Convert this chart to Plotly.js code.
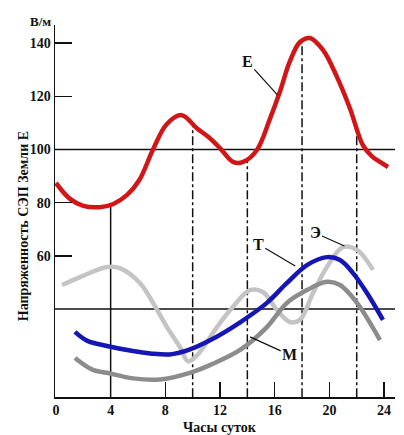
<!DOCTYPE html>
<html><head><meta charset="utf-8">
<script src="https://cdn.plot.ly/plotly-3.0.1.min.js"></script>
<style>html,body{margin:0;padding:0;background:#fff}#c{width:404px;height:435px}</style>
</head><body><div id="c"></div>
<script>
// Hours of day
const hoursE = [0, 1.0, 2.0, 3.2, 4.2, 5.2, 6.1, 7.1, 8.1, 9.2, 10.3, 11.2, 12.0, 12.95, 13.7, 14.7, 15.65, 16.4, 17.1, 17.85, 18.58, 19.53, 20.56, 21.5, 22.46, 23.1, 23.7, 24.29];
const valuesE = [87.4, 81.5, 78.8, 78.3, 79.5, 82.9, 88.5, 100, 109.5, 112.9, 108, 104.5, 100.5, 95.3, 95.3, 99.8, 111.5, 122, 133, 140.4, 141.9, 137.4, 127.2, 115.5, 101.5, 97.5, 95.3, 93.4];

const hoursT = [1.39, 2.3, 3.73, 5.63, 6.9, 8.3, 9.66, 11.3, 13.5, 15.43, 16.9, 18.36, 19.82, 20.78, 21.73, 22.75, 23.92];
const valuesT = [31.4, 28.0, 26.1, 24.2, 23.3, 22.9, 24.5, 28.3, 35.1, 42.3, 49.8, 56.5, 59.5, 58.4, 53.5, 46.0, 35.9];

const hoursM = [1.39, 2.7, 3.73, 5.63, 7.61, 9.8, 11.3, 13.5, 15.43, 16.9, 18.36, 19.82, 20.78, 22.02, 23.7];
const valuesM = [21.6, 17.1, 16.0, 13.9, 13.5, 16.0, 19.0, 24.7, 33.2, 42.3, 47.1, 50.2, 49.0, 42.3, 28.3];

const hoursS = [0.44, 1.76, 3.73, 4.68, 6.14, 7.1, 8.12, 9.07, 9.66, 10.3, 11.78, 12.95, 14.19, 15.14, 16.17, 17.12, 17.85, 18.8, 19.82, 20.99, 22.02, 23.19];
const valuesS = [49.0, 52.0, 55.8, 55.4, 49.8, 42.3, 33.2, 25.7, 20.3, 22.5, 33.2, 40.8, 47.1, 46.4, 39.6, 35.1, 35.9, 46.0, 55.8, 63.3, 62.2, 54.7];

const xTicks = [0, 4, 8, 12, 16, 20, 24];
const yTicks = [60, 80, 100, 120, 140];
const guideHours = [4, 10, 14, 18, 22];
const refLevels = [100, 40];

function interp(xs, ys, x) {
  for (let i = 0; i < xs.length - 1; i++) {
    if (x >= xs[i] && x <= xs[i + 1]) {
      const t = (x - xs[i]) / (xs[i + 1] - xs[i]);
      return ys[i] + t * (ys[i + 1] - ys[i]);
    }
  }
  return ys[ys.length - 1];
}

const font = 'Liberation Serif, DejaVu Serif, serif';
const lw = 4.5;
const traces = [
  {x: hoursS, y: valuesS, mode: 'lines', line: {color: '#c4c4c4', width: lw, shape: 'spline', smoothing: 1}},
  {x: hoursM, y: valuesM, mode: 'lines', line: {color: '#8c8c8c', width: lw, shape: 'spline', smoothing: 1}},
  {x: hoursT, y: valuesT, mode: 'lines', line: {color: '#1616b4', width: lw, shape: 'spline', smoothing: 1}},
  {x: hoursE, y: valuesE, mode: 'lines', line: {color: '#d01616', width: lw, shape: 'spline', smoothing: 1}}
];

const shapes = [];
refLevels.forEach(v => shapes.push({type: 'line', xref: 'paper', x0: 0, x1: 1, yref: 'y', y0: v, y1: v, line: {color: '#111', width: 1.5}, layer: 'below'}));
guideHours.forEach((h, i) => shapes.push({type: 'line', xref: 'x', x0: h, x1: h, yref: 'y', y0: 0, y1: interp(hoursE, valuesE, h), line: {color: '#111', width: 1.5, dash: i === 0 ? 'solid' : 'dashdot'}, layer: 'below'}));

const lab = {family: font, size: 16, color: '#111', weight: 'bold'};
const annotations = [
  {x: 16.2, y: 120.5, ax: 14.0, ay: 133, axref: 'x', ayref: 'y', text: '<b>Е</b>', font: lab, showarrow: true, arrowhead: 0, arrowwidth: 1.2, arrowcolor: '#111'},
  {x: 17.5, y: 56.2, ax: 14.8, ay: 64.4, axref: 'x', ayref: 'y', text: '<b>Т</b>', font: lab, showarrow: true, arrowhead: 0, arrowwidth: 1.2, arrowcolor: '#111'},
  {x: 21.1, y: 63.7, ax: 18.95, ay: 68.6, axref: 'x', ayref: 'y', text: '<b>Э</b>', font: lab, showarrow: true, arrowhead: 0, arrowwidth: 1.2, arrowcolor: '#111'},
  {x: 14.2, y: 29.5, ax: 17.1, ay: 22.7, axref: 'x', ayref: 'y', text: '<b>М</b>', font: lab, showarrow: true, arrowhead: 0, arrowwidth: 1.2, arrowcolor: '#111'},
  {xref: 'paper', yref: 'paper', x: -0.118, y: 0.46, text: '<b>Напряженность СЭП Земли Е</b>', textangle: -90, showarrow: false, font: {family: font, size: 14, color: '#111'}},
  {xref: 'paper', yref: 'paper', x: -0.006, y: 1, xanchor: 'right', yanchor: 'bottom', yshift: -6, text: '<b>В/м</b>', showarrow: false, font: {family: font, size: 13, color: '#111'}},
  {xref: 'paper', yref: 'paper', x: 0.485, y: 0, yanchor: 'top', yshift: -21, text: '<b>Часы суток</b>', showarrow: false, font: {family: font, size: 14, color: '#111'}}
];

const layout = {
  width: 404, height: 435,
  margin: {l: 55, r: 9, t: 25, b: 38},
  paper_bgcolor: '#fff', plot_bgcolor: '#fff',
  showlegend: false,
  xaxis: {range: [-0.07, 24.8], tickvals: xTicks, ticktext: xTicks.map(String), ticks: 'inside', ticklen: 15, tickwidth: 1.5, tickcolor: '#111',
          showline: true, linecolor: '#111', linewidth: 1.5, showgrid: false, zeroline: false,
          tickfont: {family: font, size: 14, color: '#111', weight: 'bold'}},
  yaxis: {range: [6.9, 146.8], tickvals: yTicks, ticktext: yTicks.map(String), ticks: 'inside', ticklen: 17, tickwidth: 1.5, tickcolor: '#111',
          showline: true, linecolor: '#111', linewidth: 1.5, showgrid: false, zeroline: false,
          tickfont: {family: font, size: 14, color: '#111', weight: 'bold'}},
  shapes: shapes,
  annotations: annotations
};
Plotly.newPlot('c', traces, layout, {displayModeBar: false, staticPlot: true});
</script></body></html>
